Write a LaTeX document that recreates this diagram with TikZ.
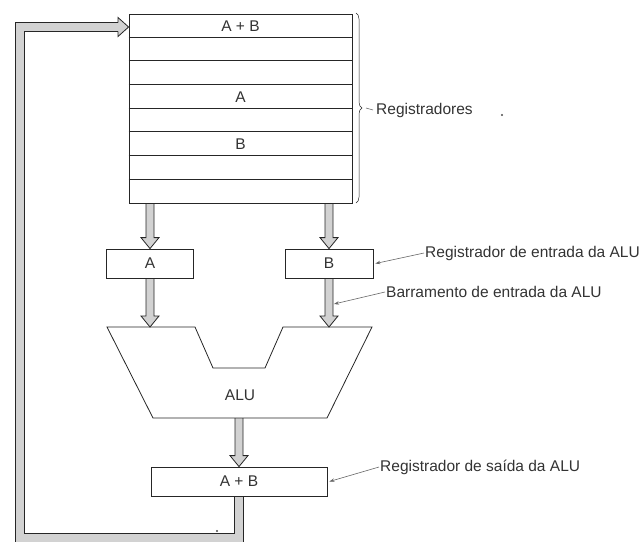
\documentclass[tikz,border=0pt]{standalone}
\usepackage{fontspec}
\setmainfont{Liberation Sans}
\usetikzlibrary{calc,arrows.meta,decorations.pathreplacing,backgrounds}

\colorlet{ink}{black!85}
\colorlet{busfill}{gray!35}
\colorlet{txt}{black!80}

% wide hollow bus arrow pointing down, from #1 to the tip #2
\newcommand{\fatdown}[2]{%
  \filldraw[busedge] ($(#1)+(-4,0)$) -- ($(#2)+(-4,-11)$) -- ($(#2)+(-9,-11)$)
    -- (#2) -- ($(#2)+(9,-11)$) -- ($(#2)+(4,-11)$) -- ($(#1)+(4,0)$);}

\begin{document}
\begin{tikzpicture}[x=1pt,y=-1pt,
  every node/.style={font=\fontsize{15.5}{18}\selectfont, text=txt},
  box/.style={draw=ink, line width=0.8pt, inner sep=0pt},
  busedge/.style={draw=ink, fill=busfill, line width=0.8pt, line join=miter},
  leader/.style={draw=black!60, line width=0.6pt, -{Stealth[length=5pt,width=3.5pt]}},
  lbl/.style={anchor=west, inner sep=1pt}]

\useasboundingbox (0,0) rectangle (642,542);

% register file
\node[box, minimum width=223pt, minimum height=189pt] (regs) at (240.5,108.5) {};
\foreach \i in {1,...,7}
  \draw[ink, line width=0.8pt] ($(regs.north west)+(0,23.625*\i)$) -- ($(regs.north east)+(0,23.625*\i)$);
\node (rAB) at (240.5,25.8) {A + B};
\node (rA)  at (240.5,96.7) {A};
\node (rB)  at (240.5,143.9) {B};

% brace and its label
\draw[ink, line width=0.5pt, decorate, decoration={brace, amplitude=6pt}] (356,13) -- (356,203);
\coordinate (braceTip) at (363,108);
\node[lbl] (regL) at (375,110) {Registradores};
\draw[black!60, line width=0.6pt] ([xshift=3pt]braceTip) -- ([xshift=-2pt]regL.west);

% ALU input registers
\node[box, minimum width=87pt, minimum height=29pt] (A) at (150,263.5) {A};
\node[box, minimum width=88pt, minimum height=29pt] (B) at (329,263.5) {B};

% ALU
\coordinate (aluTop) at (0,327);
\coordinate (aluBot) at (239,418);
\draw[ink, line width=0.8pt, line join=miter]
  (107,327) -- (195,327) -- (213,368) -- (265,368) -- (283,327) -- (372,327)
  -- (327,418) -- (153,418) -- cycle;
\node (alu) at (240,395) {ALU};

% ALU output register
\node[box, minimum width=176pt, minimum height=29pt] (out) at (239,481.5) {A + B};

% feedback bus corners
\coordinate (fbR) at (out.south |- 0,537.5);
\coordinate (fbL) at (20,537.5);
\coordinate (fbT) at (20,27);
\coordinate (fbH) at (118,27);

\begin{pgfonlayer}{background}
  % register file to input registers
  \fatdown{A.north |- regs.south}{A.north}
  \fatdown{B.north |- regs.south}{B.north}
  % input buses to the ALU
  \fatdown{A.south}{A.south |- aluTop}
  \fatdown{B.south}{B.south |- aluTop}
  % ALU to output register
  \fatdown{aluBot}{out.north}
  % result written back into the register file
  \draw[ink, line width=9.6pt, line join=miter] (out.south) -- (fbR) -- (fbL) -- (fbT) -- (fbH);
  \draw[busfill, line width=8pt, line join=miter] (out.south) -- (fbR) -- (fbL) -- (fbT) -- (fbH);
  \filldraw[busedge] ($(fbH)+(0,-4.4)$) -- ($(fbH)+(0,-9.5)$) -- (regs.west |- fbH)
    -- ($(fbH)+(0,9.5)$) -- ($(fbH)+(0,4.4)$);
\end{pgfonlayer}

% callouts
\node[lbl] (inL) at (424,253) {Registrador de entrada da ALU};
\draw[leader] (inL.west) -- ([xshift=2pt]B.east);
\coordinate (busB) at (334,304);
\node[lbl] (busL) at (385,292) {Barramento de entrada da ALU};
\draw[leader] (busL.west) -- (busB);
\node[lbl] (outL) at (379,467) {Registrador de saída da ALU};
\draw[leader] (outL.west) -- ([xshift=2pt]out.east);

% specks
\fill[black!70] (502,115) circle (1.2);
\fill[black!70] (217,531) circle (1.2);
\end{tikzpicture}
\end{document}
